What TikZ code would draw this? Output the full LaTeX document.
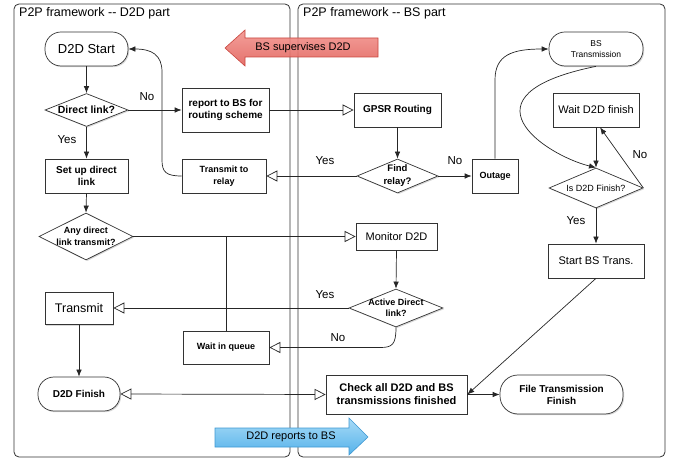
\documentclass[tikz,border=0pt]{standalone}
\usepackage{fontspec}
\setmainfont{Liberation Sans}
\usetikzlibrary{shapes.geometric,arrows.meta,shadows}

\definecolor{redtop}{HTML}{F2958F}
\definecolor{redbot}{HTML}{E2625C}
\definecolor{redline}{HTML}{C9463F}
\definecolor{bluetop}{HTML}{A8DBF7}
\definecolor{bluebot}{HTML}{55B2EA}
\definecolor{blueline}{HTML}{3F98D2}

\tikzset{
  lane/.style={draw=black!80, line width=0.8pt, rounded corners=5pt},
  box/.style={draw=black!80, fill=white, line width=0.7pt, align=center, inner sep=1pt,
    drop shadow={shadow xshift=1.2pt, shadow yshift=-1.2pt, opacity=0.3}},
  pill/.style={box, rounded corners=16pt},
  decision/.style={diamond, box, inner sep=-3pt, aspect=2.4},
  bold/.style={font=\bfseries\fontsize{10}{12.5}\selectfont},
  smallbold/.style={font=\bfseries\fontsize{9}{11.5}\selectfont},
  plain/.style={font=\fontsize{11}{13}\selectfont},
  lbl/.style={font=\fontsize{11.5}{13}\selectfont},
  link/.style={draw=black!85, line width=0.7pt},
  flow/.style={link, -{Latex[length=7pt,width=5.5pt]}},
  msg/.style={link, -{Triangle[open,length=11pt,width=11pt]}},
  msgboth/.style={link, {Triangle[open,length=11pt,width=11pt]}-{Triangle[open,length=11pt,width=11pt]}}
}

\begin{document}
\begin{tikzpicture}[x=1pt,y=-1pt]
  \useasboundingbox (0,0) rectangle (675,462);

  \draw[lane] (14,4) rectangle (290,457);
  \draw[lane] (298,4) rectangle (665,457);
  \node[anchor=west, inner sep=0pt, font=\fontsize{12.5}{14}\selectfont] (d2dtitle) at (19,13) {P2P framework -{}- D2D part};
  \node[anchor=west, inner sep=0pt, font=\fontsize{12.5}{14}\selectfont] (bstitle) at (303,13) {P2P framework -{}- BS part};

  \draw[draw=redline, line width=0.6pt, top color=redtop, bottom color=redbot, fill opacity=0.9]
    (225,48) -- (245,30) -- (245,38) -- (378,38) -- (378,57) -- (245,57) -- (245,66) -- cycle;
  \node[font=\fontsize{11}{13}\selectfont] (supervise) at (303,48) {BS supervises D2D};
  \draw[draw=blueline, line width=0.6pt, top color=bluetop, bottom color=bluebot]
    (215,428) -- (349,428) -- (349,418) -- (368,437) -- (349,455) -- (349,447) -- (215,447) -- cycle;
  \node[font=\fontsize{11}{13}\selectfont] (reports) at (291,437) {D2D reports to BS};

  \node[pill, font=\fontsize{13}{15}\selectfont, minimum width=83pt, minimum height=34pt] (d2dstart) at (86.5,49) {D2D Start};
  \node[decision, font=\bfseries\fontsize{10.5}{12}\selectfont, minimum width=83pt, minimum height=33pt, aspect=2.5] (directlink) at (86.5,110) {Direct link?};
  \node[box, bold, minimum width=87pt, minimum height=44pt] (report) at (225.5,110) {report to BS for\\routing scheme};
  \node[box, bold, font=\bfseries\fontsize{10}{12}\selectfont, minimum width=83pt, minimum height=34pt] (setup) at (86.5,176) {Set up direct\\link};
  \node[box, smallbold, minimum width=84pt, minimum height=34pt] (relay) at (224,176) {Transmit to\\relay};
  \node[decision, smallbold, font=\bfseries\fontsize{9}{12}\selectfont, minimum width=94pt, minimum height=47pt, aspect=2] (anydirect) at (86,236.5) {Any direct\\link transmit?};
  \node[box, font=\fontsize{12.5}{14}\selectfont, minimum width=68pt, minimum height=32pt] (transmit) at (79,308.5) {Transmit};
  \node[box, smallbold, minimum width=86pt, minimum height=33pt] (waitqueue) at (226,347.5) {Wait in queue};
  \node[pill, bold, minimum width=82pt, minimum height=34pt] (d2dfinish) at (79,394) {D2D Finish};

  \node[box, bold, minimum width=87pt, minimum height=34pt] (gpsr) at (397.5,110) {GPSR Routing};
  \node[decision, font=\bfseries\fontsize{9.5}{13}\selectfont, minimum width=81pt, minimum height=34pt] (findrelay) at (397.5,176) {Find\\relay?};
  \node[box, smallbold, minimum width=46pt, minimum height=34pt] (outage) at (495,176) {Outage};
  \node[pill, font=\fontsize{8.5}{11}\selectfont, minimum width=94pt, minimum height=34pt] (bstrans) at (596,49) {BS\\Transmission};
  \node[box, plain, minimum width=86pt, minimum height=34pt] (waitd2d) at (596,110) {Wait D2D finish};
  \node[decision, font=\fontsize{9}{11}\selectfont, minimum width=94pt, minimum height=40pt, aspect=2.35] (isfinish) at (596,188) {Is D2D Finish?};
  \node[box, plain, minimum width=96pt, minimum height=34pt] (startbs) at (596,261) {Start BS Trans.};
  \node[box, plain, minimum width=81pt, minimum height=27pt] (monitor) at (396.5,236.5) {Monitor D2D};
  \node[decision, font=\bfseries\fontsize{9}{11}\selectfont, minimum width=94pt, minimum height=38pt, aspect=2.47] (activedirect) at (396,308) {Active Direct\\link?};
  \node[box, font=\bfseries\fontsize{11}{13}\selectfont, minimum width=141pt, minimum height=39pt] (checkall) at (396.5,394.5) {Check all D2D and BS\\transmissions finished};
  \node[pill, bold, font=\bfseries\fontsize{10}{12}\selectfont, minimum width=123pt, minimum height=39pt, rounded corners=18pt] (filefinish) at (561.5,394.5) {File Transmission\\Finish};

  \node[lbl] (no1) at (147,97) {No};
  \node[lbl] (yes1) at (67,140) {Yes};
  \node[lbl] (yes2) at (325,161) {Yes};
  \node[lbl] (no2) at (455,161) {No};
  \node[lbl] (no3) at (640,155) {No};
  \node[lbl] (yes3) at (576,221) {Yes};
  \node[lbl] (yes4) at (325,295) {Yes};
  \node[lbl] (no4) at (338,338) {No};

  \draw[flow] (d2dstart.south) -- (directlink.north);
  \draw[flow] (directlink.east) -- (report.west);
  \draw[flow] (directlink.south) -- (setup.north);
  \draw[flow] (setup.south) -- (anydirect.north);
  \draw[msg] (report.east) -- (gpsr.west);
  \draw[flow] (gpsr.south) -- (findrelay.north);
  \draw[msg] (findrelay.west) -- (relay.east);
  \draw[flow] (findrelay.east) -- (outage.west);
  \draw[flow] (outage.north) -- (495,80) .. controls (495,55) and (512,49) .. (bstrans.west);
  \draw[flow] (relay.west) .. controls (166,176) and (162,172) .. (162,160) -- (162,72) .. controls (162,55) and (152,49) .. (d2dstart.east);
  \draw[flow] (bstrans.south) .. controls (455,95) and (545,155) .. (isfinish.north);
  \draw[flow] (waitd2d.south) -- (isfinish.north);
  \draw[flow] (isfinish.east) -- ([xshift=4pt]waitd2d.south);
  \draw[flow] (isfinish.south) -- (startbs.north);
  \draw[flow] (startbs.south) -- (checkall.east);
  \draw[flow] (checkall.east) -- (filefinish.west);
  \draw[msg] (anydirect.east) -- (monitor.west);
  \draw[link] (waitqueue.north) -- (waitqueue.north |- anydirect.east);
  \draw[flow] (monitor.south) -- (activedirect.north);
  \draw[msg] (activedirect.west) -- (activedirect.west -| transmit.east);
  \draw[msg] (activedirect.south) .. controls (396,345) and (392,347.5) .. (380,347.5) -- (waitqueue.east);
  \draw[flow] (transmit.south) -- (d2dfinish.north);
  \draw[msgboth] (d2dfinish.east) -- (checkall.west);
\end{tikzpicture}
\end{document}
